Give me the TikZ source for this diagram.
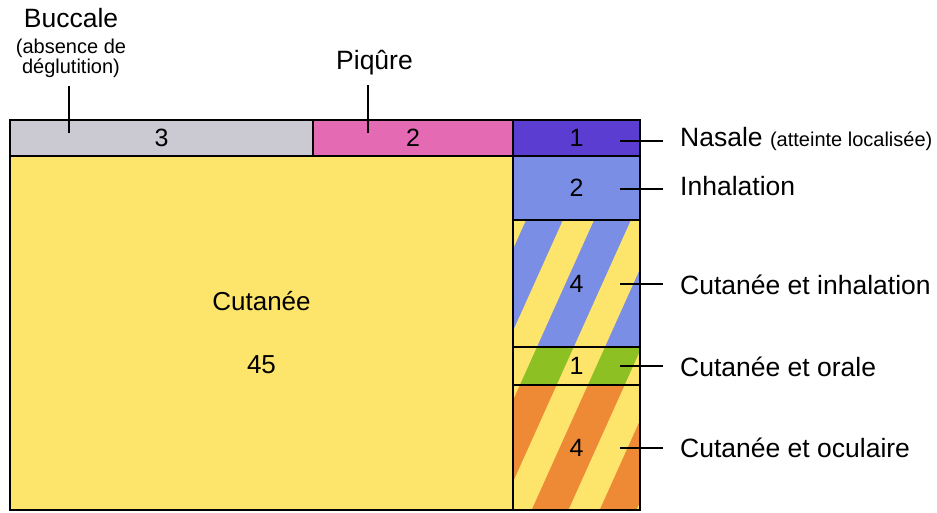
\documentclass[tikz,border=0pt]{standalone}
\usepackage{fontspec}
\setmainfont{Liberation Sans}
\definecolor{cyel}{HTML}{FDE56C}
\definecolor{cgray}{HTML}{CBCAD3}
\definecolor{cpink}{HTML}{E36AB3}
\definecolor{cpurp}{HTML}{5B3ED1}
\definecolor{cblue}{HTML}{7B8EE6}
\definecolor{cgreen}{HTML}{8DC023}
\definecolor{corange}{HTML}{EE8A35}
\begin{document}
\begin{tikzpicture}[x=1pt,y=-1pt,
  cell/.style={draw=black, line width=1.6pt, inner sep=0pt, font=\fontsize{25}{25}\selectfont},
  lab/.style={font=\fontsize{26.5}{26.5}\selectfont, anchor=base west, inner xsep=17pt, inner ysep=0pt},
  toplab/.style={align=center, inner sep=0pt, anchor=south},
  lead/.style={line width=1.5pt},
]
\useasboundingbox (0,0) rectangle (937,512);

% striped cells (background)
\begin{scope}
  \clip (513,220) rectangle (640,510);
  \fill[cblue] (513,220) rectangle (640,347);
  \fill[cgreen] (513,347) rectangle (640,385);
  \fill[corange] (513,385) rectangle (640,510);
  \foreach \k in {-1,...,3} {
    \fill[cyel] ({563+68*\k},220) -- ++(31,0) -- ++({-0.45*290},290) -- ++(-31,0) -- cycle;
  }
\end{scope}

% cells
\node[cell, fill=cgray, minimum width=303pt, minimum height=36pt] (buc) at (161.5,138) {3};
\node[cell, fill=cpink, minimum width=200pt, minimum height=36pt] (piq) at (413,138) {2};
\node[cell, fill=cyel, minimum width=503pt, minimum height=354pt, align=center,
      font=\fontsize{26}{63}\selectfont] (cut) at (261.5,333) {Cutanée\\45};
\node[cell, fill=cpurp, minimum width=127pt, minimum height=36pt] (nas) at (576.5,138) {1};
\node[cell, fill=cblue, minimum width=127pt, minimum height=64pt] (inh) at (576.5,188) {2};
\node[cell, minimum width=127pt, minimum height=127pt] (ci) at (576.5,283.5) {4};
\node[cell, minimum width=127pt, minimum height=38pt] (co) at (576.5,366) {1};
\node[cell, minimum width=127pt, minimum height=125pt] (coc) at (576.5,447.5) {4};

% leader anchor points
\coordinate (pbuc) at (69,133);
\coordinate (ppiq) at (368,133);
\coordinate (pnas) at (620,141);
\coordinate (pinh) at (620,189);
\coordinate (pci) at (620,284);
\coordinate (pco) at (620,366);
\coordinate (pcoc) at (620,448);

% top labels
\node[toplab, outer ysep=8pt, font=\fontsize{20}{20.5}\selectfont] (lbuc) at (71,86)
  {{\fontsize{26.5}{26.5}\selectfont Buccale}\\[5pt](absence de\\déglutition)};
\node[toplab, outer ysep=10pt, font=\fontsize{26.5}{26.5}\selectfont] (lpiq) at (374.5,85) {Piqûre};
\draw[lead] (pbuc) -- (pbuc |- lbuc.south);
\draw[lead] (ppiq) -- (ppiq |- lpiq.south);

% right labels
\node[lab] (lnas) at (663,146) {Nasale {\fontsize{20}{20}\selectfont(atteinte localisée)}};
\node[lab] (linh) at (663,195) {Inhalation};
\node[lab] (lci) at (663,294) {Cutanée et inhalation};
\node[lab] (lco) at (663,376) {Cutanée et orale};
\node[lab] (lcoc) at (663,457) {Cutanée et oculaire};
\draw[lead] (pnas) -- (pnas -| lnas.west);
\draw[lead] (pinh) -- (pinh -| linh.west);
\draw[lead] (pci) -- (pci -| lci.west);
\draw[lead] (pco) -- (pco -| lco.west);
\draw[lead] (pcoc) -- (pcoc -| lcoc.west);
\end{tikzpicture}
\end{document}
